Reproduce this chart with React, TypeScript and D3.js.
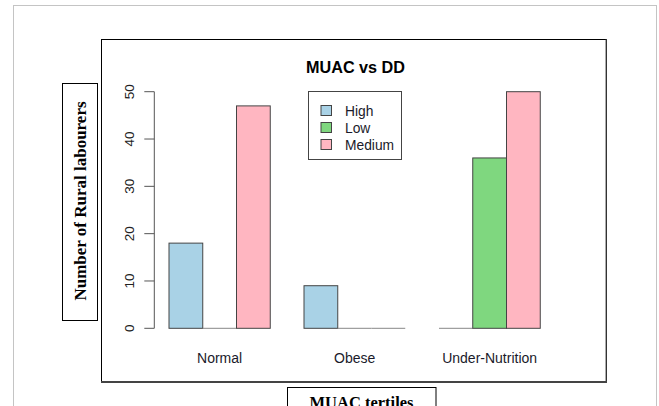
import React from "react";
import * as d3 from "d3";

// Grouped counts of rural labourers by MUAC tertile and DD level
const categories = ["Normal", "Obese", "Under-Nutrition"];
const seriesNames = ["High", "Low", "Medium"];
const highValues = [18, 9, 0];
const lowValues = [0, 0, 36];
const mediumValues = [47, 0, 50];
const yTicks = [0, 10, 20, 30, 40, 50];
const seriesColors = ["#a9d2e6", "#7fd77f", "#ffb6c1"];

const W = 659;
const H = 406;

export default function App() {
  const series = [highValues, lowValues, mediumValues];

  // bar-unit positions: each group has 3 bars preceded by a gap of 1 bar
  const x = d3.scaleLinear().domain([1, 2]).range([169, 202.75]);
  const y = d3.scaleLinear().domain([0, 50]).range([328.3, 91.7]);

  const bars: { x0: number; x1: number; v: number; color: string; key: string }[] = [];
  categories.forEach((c, gi) => {
    series.forEach((vals, si) => {
      const start = 1 + gi * 4 + si;
      bars.push({
        x0: x(start),
        x1: x(start + 1),
        v: vals[gi],
        color: seriesColors[si],
        key: `${c}-${si}`,
      });
    });
  });

  const sans = "'Liberation Sans', Arial, sans-serif";
  const serif = "'Liberation Serif', 'Times New Roman', serif";
  const axisX = 154.3;

  return (
    <svg
      width={W}
      height={H}
      style={{ position: "absolute", left: 0, top: 0, background: "#fff" }}
    >
      {/* outer page frame */}
      <rect x={13.5} y={5.5} width={643} height={420} fill="none" stroke="#c4c4c4" strokeWidth={1} />

      {/* chart frame */}
      <line x1={101.5} y1={40} x2={101.5} y2={382} stroke="#000" strokeWidth={1} />
      <line x1={101} y1={39.5} x2={606.5} y2={39.5} stroke="#000" strokeWidth={1} />
      <line x1={606.3} y1={39} x2={606.3} y2={382.5} stroke="#333" strokeWidth={1.4} />
      <line x1={101} y1={382} x2={607} y2={382} stroke="#444" strokeWidth={2} />

      {/* y axis */}
      <line x1={axisX} y1={y(0)} x2={axisX} y2={y(50)} stroke="#555" strokeWidth={1} />
      {yTicks.map((t) => (
        <g key={t}>
          <line x1={axisX - 10} y1={y(t)} x2={axisX} y2={y(t)} stroke="#555" strokeWidth={1} />
          <text
            x={0}
            y={0}
            transform={`translate(${133.5},${y(t)}) rotate(-90)`}
            textAnchor="middle"
            fontFamily={sans}
            fontSize={13.5}
            fill="#222"
          >
            {t}
          </text>
        </g>
      ))}

      {/* bars; zero counts collapse to a baseline segment */}
      {bars.map((b) =>
        b.v > 0 ? (
          <rect
            key={b.key}
            x={b.x0}
            y={y(b.v)}
            width={b.x1 - b.x0}
            height={y(0) - y(b.v)}
            fill={b.color}
            stroke="#444"
            strokeWidth={1}
          />
        ) : (
          <line key={b.key} x1={b.x0} y1={y(0)} x2={b.x1} y2={y(0)} stroke="#888" strokeWidth={1} />
        )
      )}

      {/* category labels */}
      {categories.map((c, gi) => (
        <text
          key={c}
          x={x(1 + gi * 4 + 1.5)}
          y={362.5}
          textAnchor="middle"
          fontFamily={sans}
          fontSize={14}
          fill="#1a1a2a"
        >
          {c}
        </text>
      ))}

      {/* title */}
      <text x={355.5} y={72.7} textAnchor="middle" fontFamily={sans} fontSize={16.2} fontWeight="bold" fill="#000">
        MUAC vs DD
      </text>

      {/* legend */}
      <rect x={308.5} y={91.5} width={93} height={68} fill="#fff" stroke="#444" strokeWidth={1} />
      {seriesNames.map((s, i) => (
        <g key={s}>
          <rect
            x={321}
            y={105.5 + i * 17}
            width={10.5}
            height={10}
            fill={seriesColors[i]}
            stroke="#444"
            strokeWidth={1}
          />
          <text x={345} y={115.5 + i * 17} fontFamily={sans} fontSize={13.8} fill="#1a1a2a">
            {s}
          </text>
        </g>
      ))}

      {/* y axis title box */}
      <rect x={62.5} y={83.5} width={35} height={237} fill="#fff" stroke="#000" strokeWidth={1} />
      <text
        x={0}
        y={0}
        transform={`translate(${86},${201}) rotate(-90)`}
        textAnchor="middle"
        fontFamily={serif}
        fontSize={17}
        fontWeight="bold"
        fill="#000"
      >
        Number of Rural labourers
      </text>

      {/* x axis title box */}
      <rect x={287.5} y={387.5} width={148.5} height={30} fill="#fff" stroke="#000" strokeWidth={1} />
      <text x={361.5} y={408} textAnchor="middle" fontFamily={serif} fontSize={16.5} fontWeight="bold" fill="#000">
        MUAC tertiles
      </text>
    </svg>
  );
}
